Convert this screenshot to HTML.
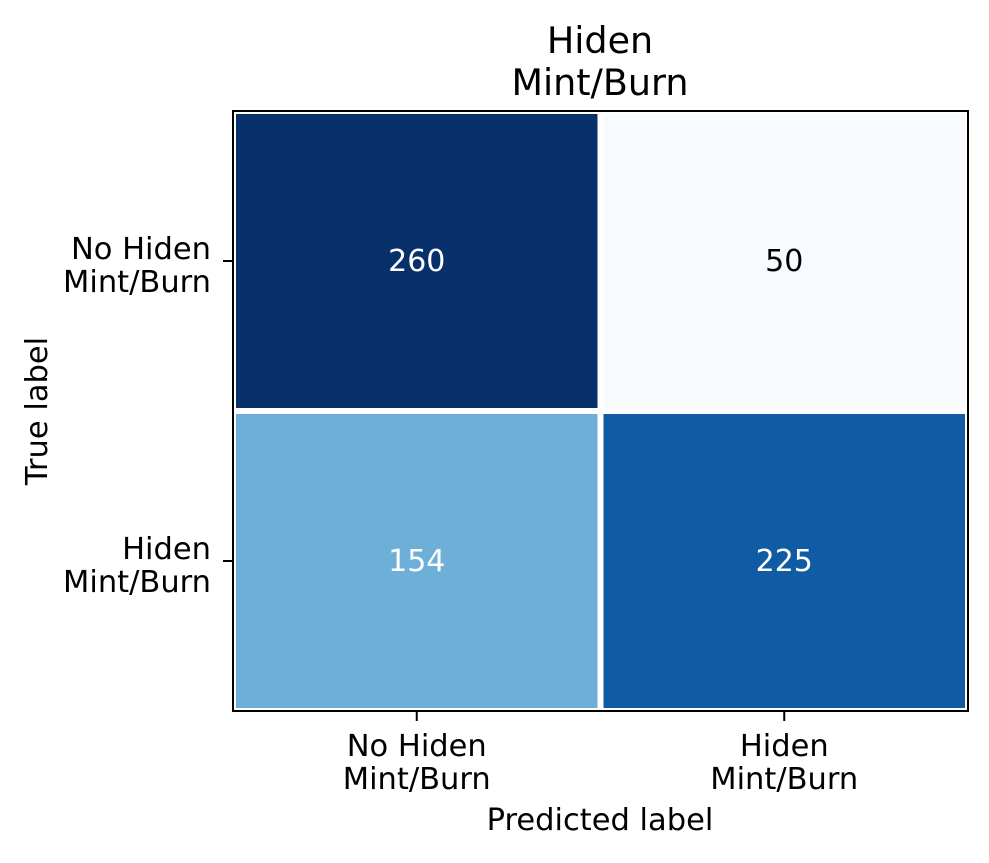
<!DOCTYPE html>
<html><head><meta charset="utf-8"><style>
body{margin:0;background:#fff}
svg text{font-family:"DejaVu Sans","Liberation Sans",sans-serif}
</style></head><body>
<svg width="989" height="858" viewBox="0 0 989 858">
<defs><clipPath id="ax"><rect x="233" y="111" width="735" height="600"/></clipPath></defs>
<g id="cells" clip-path="url(#ax)"></g>
<rect x="233" y="111" width="735" height="600" fill="none" stroke="#000" stroke-width="2"/>
<g id="labels"></g>
<text x="600" y="53" font-size="36.5" text-anchor="middle">Hiden</text>
<text x="600" y="95" font-size="36.5" text-anchor="middle">Mint/Burn</text>
<text x="600" y="830" font-size="30.5" text-anchor="middle">Predicted label</text>
<text transform="translate(47,411) rotate(-90)" font-size="30.5" text-anchor="middle">True label</text>
</svg>
<script>
const rowLabels=[["No Hiden","Mint/Burn"],["Hiden","Mint/Burn"]];
const colLabels=[["No Hiden","Mint/Burn"],["Hiden","Mint/Burn"]];
const values=[[260,50],[154,225]];
const NS="http://www.w3.org/2000/svg";
const X0=233,Y0=111,W=735,H=600;
const nR=values.length,nC=values[0].length;
const cw=W/nC,ch=H/nR;
const stops=["#f7fbff","#deebf7","#c6dbef","#9ecae1","#6baed6","#4292c6","#2171b5","#08519c","#08306b"].map(h=>[1,3,5].map(i=>parseInt(h.substr(i,2),16)));
function blues(t){t=Math.max(0,Math.min(1,t));const p=t*(stops.length-1),i=Math.min(Math.floor(p),stops.length-2),f=p-i;
return "rgb("+stops[i].map((v,k)=>Math.round(v+(stops[i+1][k]-v)*f)).join(",")+")";}
const flat=values.flat(),vmin=Math.min(...flat),vmax=Math.max(...flat);
const cells=document.getElementById('cells'),labels=document.getElementById('labels');
function mk(tag,attrs,parent){const e=document.createElementNS(NS,tag);for(const k in attrs)e.setAttribute(k,attrs[k]);parent.appendChild(e);return e;}
values.forEach((row,r)=>row.forEach((v,c)=>{
  const t=(v-vmin)/(vmax-vmin);
  const rect=mk('rect',{x:X0+c*cw,y:Y0+r*ch,width:cw,height:ch,fill:blues(t),stroke:'#fff','stroke-width':6},cells);
  
  
  const tx=mk('text',{x:X0+(c+.5)*cw,y:Y0+(r+.5)*ch+10,'font-size':30,'text-anchor':'middle',fill:t<0.3?'#000':'#fff'},labels);
  tx.textContent=v;
  
  
}));
colLabels.forEach((l,c)=>{
  const x=X0+(c+.5)*cw;
  const tk=mk('line',{x1:x,x2:x,y1:Y0+H,y2:Y0+H+10,stroke:'#000','stroke-width':2},labels);
  
  
  l.forEach((s,i)=>{const t=mk('text',{x:x,y:756+i*33,'font-size':30.5,'text-anchor':'middle'},labels);t.textContent=s;
  
  });
});
rowLabels.forEach((l,r)=>{
  const y=Y0+(r+.5)*ch;
  const tk=mk('line',{x1:X0-10,x2:X0,y1:y,y2:y,stroke:'#000','stroke-width':2},labels);
  
  
  l.forEach((s,i)=>{const t=mk('text',{x:211,y:y-2+i*33,'font-size':30.5,'text-anchor':'end'},labels);t.textContent=s;
  
  });
});
</script>
</body></html>
